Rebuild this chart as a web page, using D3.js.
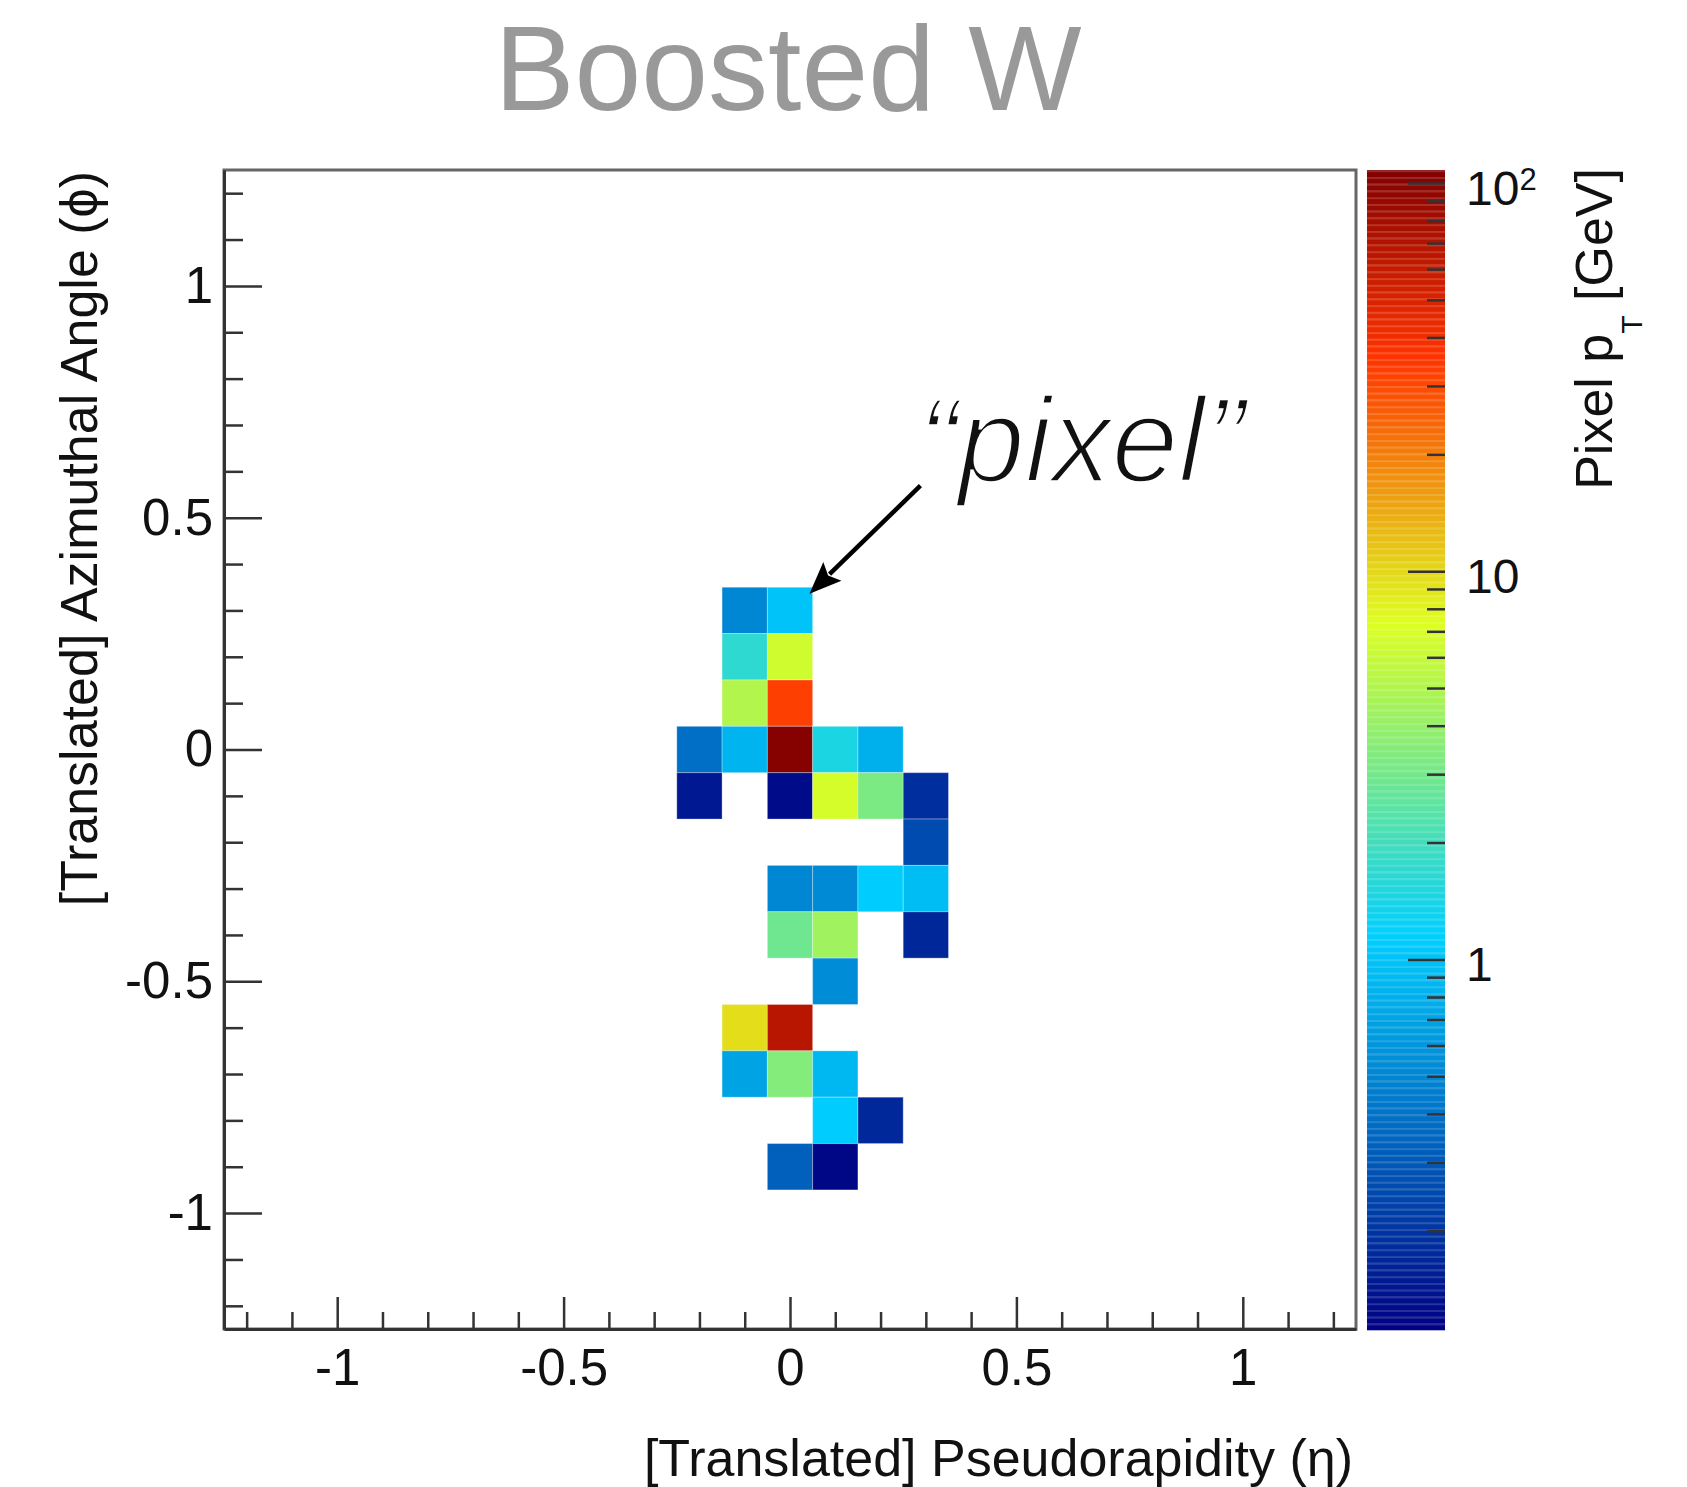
<!DOCTYPE html>
<html>
<head>
<meta charset="utf-8">
<script src="https://cdn.jsdelivr.net/npm/d3@7"></script>
<style>
  body { margin: 0; background: #fff; }
  svg { display: block; font-family: "Liberation Sans", Arial, Helvetica, sans-serif; }
</style>
</head>
<body>
<svg id="chart" width="1687" height="1487"></svg>
<script>
// pixel centres in (translated) eta / phi, and the pixel pT in GeV
const cellEta = [-0.1, 0, -0.1, 0, -0.1, 0, -0.2, -0.1, 0, 0.1, 0.2, -0.2, 0, 0.1, 0.2, 0.3, 0.3,
  0, 0.1, 0.2, 0.3, 0, 0.1, 0.3, 0.1, -0.1, 0, -0.1, 0, 0.1, 0.1, 0.2, 0, 0.1];
const cellPhi = [0.3, 0.3, 0.2, 0.2, 0.1, 0.1, 0, 0, 0, 0, 0, -0.1, -0.1, -0.1, -0.1, -0.1, -0.2,
  -0.3, -0.3, -0.3, -0.3, -0.4, -0.4, -0.4, -0.5, -0.6, -0.6, -0.7, -0.7, -0.7, -0.8, -0.8, -0.9, -0.9];
const cellPt = [0.51, 1.02, 1.68, 6.5, 5.1, 32.5, 0.39, 0.855, 104, 1.46, 0.81, 0.146, 0.126, 6.76, 3.24, 0.187, 0.26,
  0.51, 0.525, 1.11, 0.94, 2.88, 4.38, 0.173, 0.54, 9.6, 67, 0.71, 3.47, 0.885, 1.12, 0.175, 0.33, 0.12];

const pixelSize = 0.1;
const axisRange = [-1.25, 1.25];
const angleMajor = [-1, -0.5, 0, 0.5, 1];
const angleMinor = [-1.2, -1.1, -0.9, -0.8, -0.7, -0.6, -0.4, -0.3, -0.2, -0.1,
  0.1, 0.2, 0.3, 0.4, 0.6, 0.7, 0.8, 0.9, 1.1, 1.2];
const ptRange = [0.111, 108];
const ptMajor = [1, 10, 100];
const ptMinor = [0.2, 0.3, 0.4, 0.5, 0.6, 0.7, 0.8, 0.9, 2, 3, 4, 5, 6, 7, 8, 9, 20, 30, 40, 50, 60, 70, 80, 90];

// jet-like ROOT gradient
const paletteStops = [0, 0.34, 0.61, 0.84, 1];
const paletteColors = ["#000082", "#00cfff", "#deff1f", "#ff3300", "#820000"];

const frame = { left: 224, right: 1356, top: 170, bottom: 1329 };
const bar = { left: 1367, right: 1445, top: 170, bottom: 1330 };
const axisColor = "#333";

const svg = d3.select("#chart");

const x = d3.scaleLinear().domain(axisRange).range([frame.left, frame.right]);
const y = d3.scaleLinear().domain(axisRange).range([frame.bottom, frame.top]);
const z = d3.scaleLog().domain(ptRange).range([bar.bottom, bar.top]);
const zNorm = d3.scaleLog().domain(ptRange).range([0, 1]).clamp(true);
const palette = d3.scaleLinear().domain(paletteStops).range(paletteColors)
  .interpolate(d3.interpolateRgb).clamp(true);
const colour = v => palette(zNorm(v));

svg.append("rect").attr("width", 1687).attr("height", 1487).attr("fill", "#fff");

// title
svg.append("text")
  .attr("x", 788).attr("y", 110)
  .attr("text-anchor", "middle")
  .style("font-size", "120px")
  .style("fill", "#999")
  .text("Boosted W");

// pixels
const cells = cellEta.map((e, i) => ({ eta: e, phi: cellPhi[i], pt: cellPt[i] }));
svg.append("g").selectAll("rect")
  .data(cells)
  .join("rect")
  .attr("x", d => x(d.eta - pixelSize / 2))
  .attr("y", d => y(d.phi + pixelSize / 2))
  .attr("width", d => x(d.eta + pixelSize / 2) - x(d.eta - pixelSize / 2))
  .attr("height", d => y(d.phi - pixelSize / 2) - y(d.phi + pixelSize / 2))
  .attr("fill", d => colour(d.pt))
  .attr("stroke", "#fff")
  .attr("stroke-opacity", 0.3)
  .attr("stroke-width", 1);

// frame
svg.append("rect")
  .attr("x", frame.left).attr("y", frame.top)
  .attr("width", frame.right - frame.left).attr("height", frame.bottom - frame.top)
  .attr("fill", "none").attr("stroke", "#666").attr("stroke-width", 3);

function styleAxis(g) {
  g.selectAll("line").attr("stroke", axisColor).attr("stroke-width", 2.5);
  g.selectAll("path").attr("stroke", axisColor).attr("stroke-width", 3);
  g.selectAll("text").style("font-size", "51px").style("fill", "#111")
    .style("font-family", "'Liberation Sans', Arial, sans-serif");
}

const fmt = d => String(d);

// x axis
svg.append("g")
  .attr("transform", `translate(0,${frame.bottom})`)
  .call(d3.axisBottom(x).tickValues(angleMinor).tickSize(-17).tickSizeOuter(0).tickFormat(""))
  .call(g => g.select(".domain").remove())
  .call(styleAxis);
svg.append("g")
  .attr("transform", `translate(0,${frame.bottom})`)
  .call(d3.axisBottom(x).tickValues(angleMajor).tickSize(-32).tickSizeOuter(0).tickPadding(20).tickFormat(fmt))
  .call(styleAxis);

// y axis
svg.append("g")
  .attr("transform", `translate(${frame.left},0)`)
  .call(d3.axisLeft(y).tickValues(angleMinor).tickSize(-19).tickSizeOuter(0).tickFormat(""))
  .call(g => g.select(".domain").remove())
  .call(styleAxis);
svg.append("g")
  .attr("transform", `translate(${frame.left},0)`)
  .call(d3.axisLeft(y).tickValues(angleMajor).tickSize(-38).tickSizeOuter(0).tickPadding(11).tickFormat(fmt))
  .call(styleAxis);

// axis titles
svg.append("text")
  .attr("x", 1353).attr("y", 1476)
  .attr("text-anchor", "end")
  .style("font-size", "52px").style("fill", "#111")
  .text("[Translated] Pseudorapidity (η)");

svg.append("text")
  .attr("transform", "translate(97,171) rotate(-90)")
  .attr("text-anchor", "end")
  .style("font-size", "52px").style("fill", "#111")
  .text("[Translated] Azimuthal Angle (ϕ)");

// colour bar
const nBands = 172;
const bandH = (bar.bottom - bar.top) / nBands;
const bands = svg.append("g").selectAll("g")
  .data(d3.range(nBands))
  .join("g");
bands.append("rect")
  .attr("x", bar.left).attr("width", bar.right - bar.left)
  .attr("y", i => bar.bottom - (i + 1) * bandH)
  .attr("height", bandH + 0.3)
  .attr("fill", i => palette((i + 0.5) / nBands));
bands.append("rect")
  .attr("x", bar.left).attr("width", bar.right - bar.left)
  .attr("y", i => bar.bottom - (i + 1) * bandH)
  .attr("height", 2.2)
  .attr("fill", "#fff").attr("fill-opacity", 0.16);

svg.append("g")
  .attr("transform", `translate(${bar.right},0)`)
  .call(d3.axisRight(z).tickValues(ptMinor).tickSize(-18).tickSizeOuter(0).tickFormat(""))
  .call(g => g.select(".domain").remove())
  .call(styleAxis);
const zAxis = svg.append("g")
  .attr("transform", `translate(${bar.right},0)`)
  .call(d3.axisRight(z).tickValues(ptMajor).tickSize(-37).tickSizeOuter(0).tickPadding(21).tickFormat(""))
  .call(g => g.select(".domain").remove())
  .call(styleAxis);

zAxis.selectAll(".tick text")
  .style("font-size", "48px")
  .attr("dy", "0.45em")
  .each(function (d) {
    const t = d3.select(this);
    if (d >= 100) {
      t.append("tspan").text("10");
      t.append("tspan").attr("dy", "-0.48em").style("font-size", "31px").text(Math.round(Math.log10(d)));
    } else {
      t.text(String(d));
    }
  });

const zTitle = svg.append("text")
  .attr("transform", "translate(1612,168) rotate(-90)")
  .attr("text-anchor", "end")
  .style("font-size", "52px").style("fill", "#111");
zTitle.append("tspan").text("Pixel p");
zTitle.append("tspan").attr("dy", 30).style("font-size", "30px").text("T");
zTitle.append("tspan").attr("dy", -30).text(" [GeV]");

// "pixel" annotation, placed in data coordinates
const note = { textEta: 0.283, textPhi: 0.578, fromEta: 0.288, fromPhi: 0.569, toEta: 0.043, toPhi: 0.336 };

// white stroke painted over the fill thins the glyphs to a light weight
svg.append("text")
  .attr("x", x(note.textEta)).attr("y", y(note.textPhi))
  .style("font-size", "120px").style("font-style", "italic")
  .style("fill", "#111")
  .style("stroke", "#fff").style("stroke-width", 3.5)
  .style("paint-order", "fill")
  .text("“pixel”");

const x0 = x(note.fromEta), y0 = y(note.fromPhi), x1 = x(note.toEta), y1 = y(note.toPhi);
const len = Math.hypot(x1 - x0, y1 - y0);
const ux = (x1 - x0) / len, uy = (y1 - y0) / len;
const headL = 32, headW = 13;
const bx = x1 - ux * headL, by = y1 - uy * headL;
svg.append("line")
  .attr("x1", x0).attr("y1", y0).attr("x2", bx + ux * 4).attr("y2", by + uy * 4)
  .attr("stroke", "#000").attr("stroke-width", 4.5);
svg.append("path")
  .attr("d", `M${x1},${y1}L${bx - uy * headW},${by + ux * headW}L${bx + ux * 6},${by + uy * 6}L${bx + uy * headW},${by - ux * headW}Z`)
  .attr("fill", "#000");
</script>
</body>
</html>
